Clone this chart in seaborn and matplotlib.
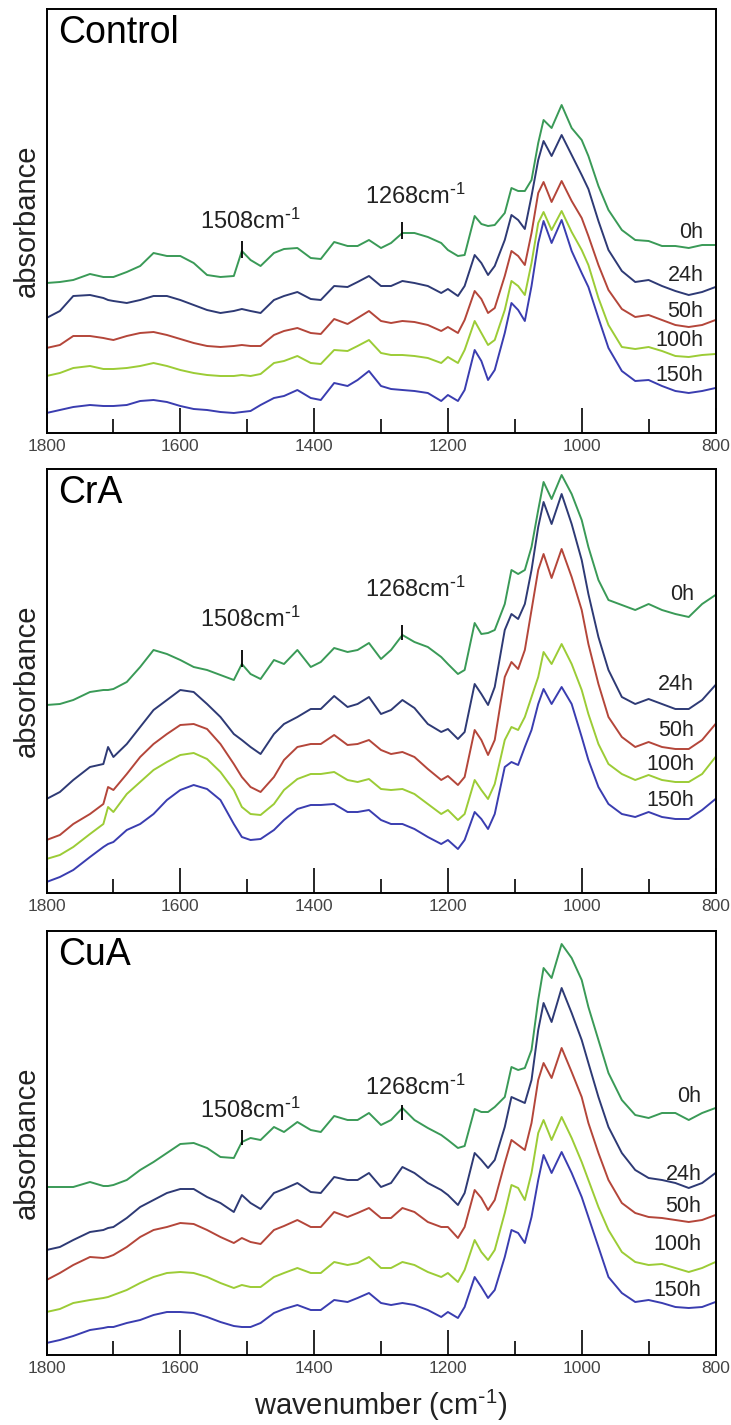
import pandas as pd
import matplotlib.pyplot as plt
import seaborn as sns

# wavenumber grid (cm-1) shared by all spectra
wavenumber = [1800, 1780, 1760, 1735, 1715, 1708, 1700, 1680, 1660, 1640,
              1620, 1600, 1580, 1560, 1540, 1520, 1508, 1495, 1480, 1460,
              1445, 1425, 1405, 1390, 1370, 1350, 1335, 1318, 1300, 1285,
              1268, 1250, 1230, 1210, 1200, 1185, 1175, 1160, 1150, 1140,
              1130, 1115, 1105, 1095, 1085, 1075, 1065, 1057, 1045, 1030,
              1015, 1000, 990, 975, 960, 940, 920, 900, 880, 860,
              840, 820, 800]

times = ["0h", "24h", "50h", "100h", "150h"]
colors = ["#3a9a57", "#2e3a75", "#b4463a", "#9ccc36", "#3a3db0"]

# offset absorbance (arbitrary units), Control
control_0h = [150, 151, 153, 159, 156, 156, 156, 161, 167, 180,
              177, 177, 170, 158, 156, 157, 182, 173, 167, 180,
              184, 185, 175, 174, 191, 187, 187, 193, 185, 190,
              200, 200, 196, 190, 183, 177, 178, 217, 209, 207,
              208, 220, 245, 242, 242, 253, 290, 313, 305, 328,
              305, 293, 277, 247, 223, 203, 193, 192, 187, 187,
              185, 188, 188]
control_24h = [115, 122, 137, 138, 135, 133, 132, 130, 133, 137,
               137, 133, 128, 123, 120, 122, 124, 122, 120, 133,
               137, 141, 134, 133, 147, 146, 151, 157, 147, 147,
               152, 150, 147, 140, 144, 137, 147, 178, 170, 158,
               167, 193, 218, 213, 204, 237, 273, 292, 277, 298,
               278, 258, 244, 212, 183, 162, 151, 153, 147, 142,
               138, 141, 146]
control_50h = [85, 88, 97, 97, 95, 94, 93, 97, 100, 101,
               98, 94, 90, 87, 86, 87, 88, 87, 87, 98,
               102, 105, 100, 99, 114, 109, 115, 122, 112, 110,
               112, 111, 108, 102, 106, 100, 113, 142, 134, 120,
               125, 157, 182, 177, 168, 200, 240, 251, 231, 252,
               232, 215, 197, 168, 143, 124, 116, 118, 113, 108,
               106, 108, 113]
control_100h = [57, 60, 65, 67, 64, 64, 64, 65, 67, 70,
                67, 63, 60, 58, 57, 57, 58, 57, 59, 70,
                72, 77, 70, 69, 83, 82, 87, 93, 80, 78,
                78, 77, 75, 70, 76, 70, 83, 112, 100, 88,
                93, 123, 152, 147, 138, 170, 210, 221, 203, 222,
                201, 183, 168, 135, 108, 86, 84, 86, 82, 77,
                76, 78, 79]
control_150h = [20, 23, 26, 28, 27, 27, 27, 28, 32, 33,
                31, 27, 24, 23, 21, 20, 21, 22, 28, 35,
                37, 43, 35, 33, 50, 47, 53, 62, 47, 44,
                43, 42, 40, 32, 38, 32, 43, 83, 72, 53,
                63, 100, 130, 123, 112, 147, 190, 212, 190, 213,
                182, 160, 146, 115, 85, 62, 52, 53, 47, 42,
                40, 42, 45]

# CrA
cra_0h = [188, 189, 193, 201, 203, 203, 204, 211, 226, 243,
          239, 233, 226, 223, 218, 213, 229, 219, 214, 233,
          229, 243, 226, 231, 245, 241, 243, 250, 234, 243,
          258, 251, 246, 236, 229, 219, 223, 270, 259, 260,
          263, 289, 323, 319, 323, 346, 383, 411, 394, 418,
          399, 373, 346, 313, 293, 288, 283, 289, 283, 279,
          276, 289, 298]
cra_24h = [94, 101, 113, 126, 129, 146, 136, 149, 166, 183,
           193, 203, 201, 189, 176, 159, 153, 146, 139, 159,
           169, 176, 184, 184, 197, 186, 189, 196, 179, 183,
           193, 185, 169, 161, 164, 154, 161, 209, 199, 188,
           206, 263, 279, 274, 289, 323, 366, 391, 369, 399,
           369, 333, 299, 256, 223, 196, 189, 194, 189, 184,
           184, 193, 208]
cra_50h = [53, 58, 69, 79, 89, 106, 103, 119, 136, 149,
           159, 168, 169, 164, 149, 129, 116, 106, 101, 116,
           133, 146, 149, 149, 158, 148, 149, 153, 143, 139,
           141, 136, 124, 113, 117, 108, 116, 163, 153, 138,
           153, 216, 231, 224, 243, 283, 323, 339, 315, 344,
           316, 283, 249, 209, 176, 156, 146, 151, 146, 144,
           144, 153, 169]
cra_100h = [34, 38, 46, 59, 69, 86, 81, 99, 111, 123,
            131, 138, 140, 134, 121, 103, 86, 79, 78, 89,
            103, 114, 119, 119, 121, 113, 111, 114, 104, 103,
            104, 99, 89, 79, 83, 73, 79, 113, 103, 94,
            109, 153, 166, 163, 176, 196, 216, 241, 229, 249,
            229, 203, 179, 149, 129, 119, 113, 118, 113, 111,
            111, 119, 136]
cra_150h = [11, 16, 23, 36, 46, 49, 51, 63, 69, 79,
            93, 103, 108, 104, 93, 69, 56, 53, 54, 63,
            73, 84, 88, 88, 89, 81, 81, 83, 73, 69,
            69, 64, 56, 49, 53, 44, 53, 81, 74, 64,
            79, 126, 131, 128, 146, 163, 189, 204, 189, 206,
            189, 156, 133, 106, 89, 79, 76, 81, 76, 74,
            74, 83, 94]

# CuA
cua_0h = [168, 168, 168, 173, 169, 169, 170, 175, 185, 193,
          202, 211, 212, 207, 198, 197, 213, 217, 215, 228,
          223, 233, 225, 223, 239, 235, 235, 242, 230, 235,
          247, 235, 227, 220, 215, 207, 209, 246, 243, 243,
          248, 258, 288, 285, 287, 305, 355, 387, 377, 411,
          397, 375, 348, 315, 282, 255, 240, 237, 242, 242,
          235, 242, 247]
cua_24h = [105, 108, 115, 123, 125, 127, 128, 137, 148, 155,
           162, 166, 166, 158, 152, 143, 160, 152, 146, 162,
           166, 172, 163, 162, 178, 175, 175, 182, 168, 172,
           188, 182, 172, 165, 160, 150, 162, 202, 195, 187,
           195, 228, 258, 255, 252, 275, 325, 352, 333, 367,
           342, 315, 292, 258, 228, 202, 185, 177, 175, 172,
           167, 172, 182]
cua_50h = [75, 82, 90, 98, 97, 98, 100, 108, 118, 125,
           128, 132, 131, 125, 118, 112, 117, 113, 111, 125,
           129, 135, 128, 128, 143, 138, 142, 147, 137, 137,
           147, 143, 133, 128, 128, 117, 128, 165, 157, 145,
           155, 192, 215, 210, 205, 232, 275, 292, 277, 307,
           283, 258, 232, 202, 175, 152, 142, 138, 137, 135,
           133, 135, 140]
cua_100h = [43, 46, 52, 55, 57, 58, 60, 65, 72, 78,
            82, 83, 82, 78, 72, 67, 70, 68, 68, 78,
            82, 87, 82, 82, 93, 90, 92, 98, 87, 87,
            93, 90, 83, 78, 82, 73, 85, 115, 103, 95,
            105, 142, 170, 167, 155, 182, 222, 235, 215, 238,
            217, 193, 175, 148, 125, 103, 93, 90, 91, 87,
            83, 87, 93]
cua_150h = [12, 15, 19, 25, 27, 28, 28, 32, 35, 40,
            43, 43, 42, 38, 33, 29, 28, 28, 32, 42,
            46, 50, 45, 45, 55, 53, 57, 62, 52, 50,
            52, 50, 45, 38, 43, 37, 48, 78, 68, 57,
            65, 98, 125, 122, 112, 138, 175, 200, 182, 203,
            182, 158, 138, 108, 78, 62, 53, 55, 52, 48,
            47, 48, 53]

# band markers
bands = [1508, 1268]
band_labels = ["1508cm$^{\\text{-}1}$", "1268cm$^{\\text{-}1}$"]

panels = [
    ("Control", [control_0h, control_24h, control_50h, control_100h, control_150h],
     [(175, 192, 212), (194, 211, 237)], 818, [200, 157, 121, 92, 57]),
    ("CrA", [cra_0h, cra_24h, cra_50h, cra_100h, cra_150h],
     [(226, 243, 274), (253, 268, 304)], 832, [298, 209, 163, 129, 93]),
    ("CuA", [cua_0h, cua_24h, cua_50h, cua_100h, cua_150h],
     [(210, 225, 245), (235, 250, 268)], 821, [258, 180, 148, 110, 65]),
]

sns.set_style("ticks")
plt.rcParams['font.family'] = ['Liberation Sans', 'DejaVu Sans']
plt.rcParams['mathtext.default'] = 'regular'

fig = plt.figure(figsize=(7.31, 14.25), dpi=100)
W, H = 731, 1425
left, width = 46.5 / W, 669 / W
bottoms = [433, 893, 1355]
palette = dict(zip(times, colors))

for (name, series, marks, lab_x, lab_y), b in zip(panels, bottoms):
    ax = fig.add_axes([left, 1 - b / H, width, 424 / H])
    rows = []
    for t, vals in zip(times, series):
        for w, v in zip(wavenumber, vals):
            rows.append((w, v, t))
    df = pd.DataFrame(rows, columns=["wavenumber", "absorbance", "time"])
    sns.lineplot(data=df, x="wavenumber", y="absorbance", hue="time",
                 hue_order=times, palette=palette, estimator=None,
                 linewidth=1.4, legend=False, ax=ax)
    ax.set_xlim(1800, 800)
    ax.set_ylim(0, 424)
    ax.set_yticks([])
    ax.set_xticks([1800, 1600, 1400, 1200, 1000, 800])
    ax.set_xticks([1700, 1500, 1300, 1100, 900], minor=True)
    ax.tick_params(axis='x', which='major', direction='in', length=18,
                   width=1.4, pad=4, labelsize=12.5, labelcolor='#444444')
    ax.tick_params(axis='x', which='minor', direction='in', length=10, width=1.4)
    for s in ax.spines.values():
        s.set_visible(True)
        s.set_linewidth(1.4)
        s.set_color('black')
    ax.set_xlabel("")
    ax.set_ylabel("absorbance", fontsize=21, labelpad=4, color='#222222')
    ax.text(0.017, 0.985, name, transform=ax.transAxes, ha='left', va='top',
            fontsize=27, color='black')
    for wn, txt, (y0, y1, ty), tx in zip(bands, band_labels, marks, [1496, 1248]):
        ax.vlines(wn, y0, y1, color='black', linewidth=1.3)
        ax.text(tx, ty, txt, ha='center', va='center', fontsize=17, color='#222222')
    for t, y in zip(times, lab_y):
        ax.text(lab_x, y, t, ha='right', va='center', fontsize=15.5, color='#222222')

fig.text(381 / W, 1 - 1405 / H, "wavenumber (cm$^{\\text{-}1}$)", ha='center',
         va='center', fontsize=21, color='#222222')

fig.savefig("out.png", dpi=100)
